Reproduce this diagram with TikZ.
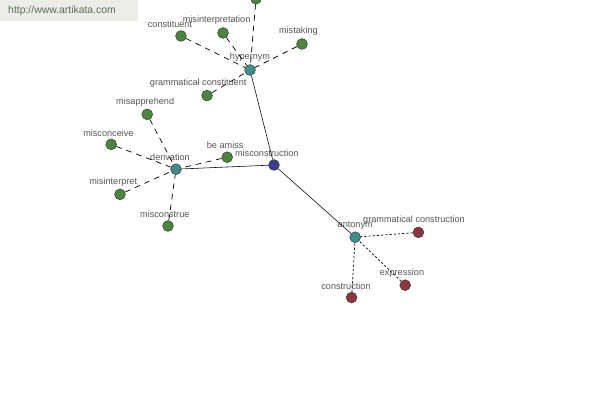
\documentclass[tikz,border=0pt]{standalone}
\usepackage{fontspec}
\setmainfont{Liberation Sans}
\usepackage{xcolor}
\usepackage{tikz}

\definecolor{leafgreen}{RGB}{74,134,62}
\definecolor{hubteal}{RGB}{62,140,140}
\definecolor{rootblue}{RGB}{58,62,142}
\definecolor{antred}{RGB}{140,56,58}
\definecolor{lblgray}{RGB}{85,85,85}
\definecolor{markgray}{RGB}{236,236,232}
\definecolor{markgreen}{RGB}{90,110,80}

\begin{document}
\begin{tikzpicture}[
				dot/.style={circle, draw=black!75, line width=0.4pt, inner sep=0pt, minimum size=0.27cm},
				leaf/.style={dot, fill=leafgreen},
				hub/.style={dot, fill=hubteal},
				opp/.style={dot, fill=antred},
				lbl/.style={font=\fontsize{6.5}{7}\selectfont, text=lblgray, inner sep=0pt},
				every label/.style={lbl},
				label distance=1.6pt,
				dashlink/.style={dash pattern=on 4pt off 3.5pt, line width=0.5pt},
				dotlink/.style={dash pattern=on 1.5pt off 1.5pt, line width=0.5pt}
				]
				\clip (0,0) rectangle (15,10);
				\fill[white] (0,0) rectangle (15,10);
				\fill[markgray] (0,9.475) rectangle (3.45,10);
				\node[font=\fontsize{7.4}{8}\selectfont, text=markgreen] (site) at (1.55,9.725) {http://www.artikata.com};
				% centre and its three groups
				\node[dot, fill=rootblue, label={[xshift=-0.18cm]above:misconstruction}] (misconstruction) at (6.85,5.875) {};
				\node[hub, label={above:hypernym}] (hypernym) at (6.25,8.25) {};
				\node[hub, label={[xshift=-0.15cm]above:derivation}] (derivation) at (4.4,5.77) {};
				\node[hub, label={above:antonym}] (antonym) at (8.88,4.07) {};
				% hypernym
				\node[leaf] (offpage) at (6.4,10.03) {};
				\node[leaf, label={[xshift=-0.275cm]above:constituent}] (constituent) at (4.525,9.1) {};
				\node[leaf, label={[xshift=-0.16cm]above:misinterpretation}] (misinterpretation) at (5.575,9.175) {};
				\node[leaf, label={[xshift=-0.09cm]above:mistaking}] (mistaking) at (7.55,8.9) {};
				\node[leaf, label={[xshift=-0.22cm]above:grammatical constituent}] (gramconstituent) at (5.175,7.61) {};
				% derivation
				\node[leaf, label={[xshift=-0.05cm]above:misapprehend}] (misapprehend) at (3.68,7.14) {};
				\node[leaf, label={[xshift=-0.07cm]above:misconceive}] (misconceive) at (2.78,6.39) {};
				\node[leaf, label={[xshift=-0.05cm]above:be amiss}] (beamiss) at (5.68,6.07) {};
				\node[leaf, label={[xshift=-0.17cm]above:misinterpret}] (misinterpret) at (3.0,5.14) {};
				\node[leaf, label={[xshift=-0.08cm]above:misconstrue}] (misconstrue) at (4.2,4.35) {};
				% antonym
				\node[opp, label={[xshift=-0.11cm]above:grammatical construction}] (gramconstruction) at (10.46,4.19) {};
				\node[opp, label={[xshift=-0.08cm]above:expression}] (expression) at (10.13,2.87) {};
				\node[opp, label={[xshift=-0.14cm]above:construction}] (construction) at (8.79,2.56) {};
				\draw (misconstruction) -- (hypernym);
				\draw (misconstruction) -- (derivation);
				\draw (misconstruction) -- (antonym);
				\draw[dashlink] (offpage) -- (hypernym);
				\draw[dashlink] (constituent) -- (hypernym);
				\draw[dashlink] (misinterpretation) -- (hypernym);
				\draw[dashlink] (mistaking) -- (hypernym);
				\draw[dashlink] (gramconstituent) -- (hypernym);
				\draw[dashlink] (misapprehend) -- (derivation);
				\draw[dashlink] (misconceive) -- (derivation);
				\draw[dashlink] (beamiss) -- (derivation);
				\draw[dashlink] (misinterpret) -- (derivation);
				\draw[dashlink] (misconstrue) -- (derivation);
				\draw[dotlink] (gramconstruction) -- (antonym);
				\draw[dotlink] (expression) -- (antonym);
				\draw[dotlink] (construction) -- (antonym);
			\end{tikzpicture}
\end{document}
